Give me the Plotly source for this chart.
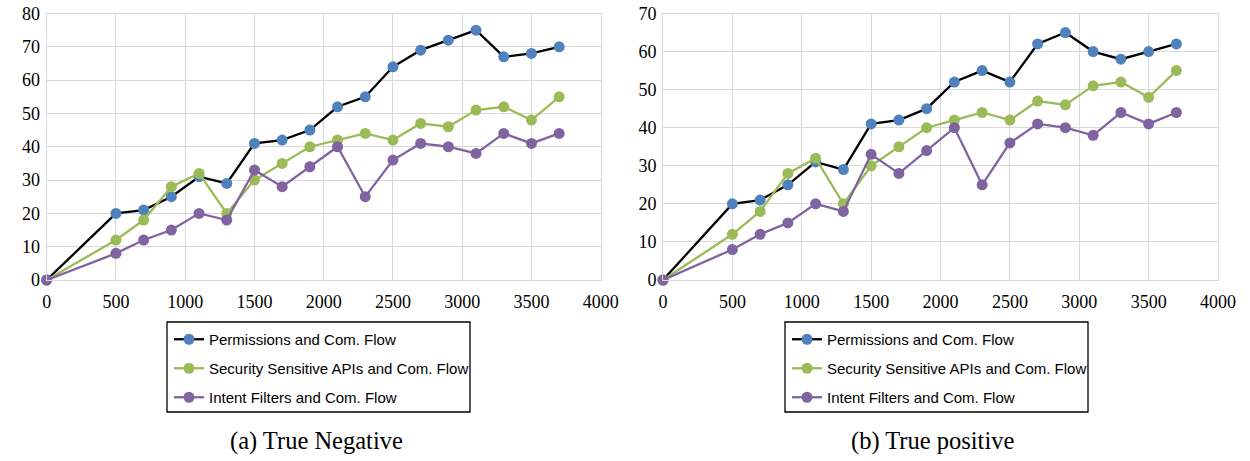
import plotly.graph_objects as go

x_vals = [0, 500, 700, 900, 1100, 1300, 1500, 1700, 1900, 2100, 2300, 2500, 2700, 2900, 3100, 3300, 3500, 3700]

tn_permissions = [0, 20, 21, 25, 31, 29, 41, 42, 45, 52, 55, 64, 69, 72, 75, 67, 68, 70]
tn_security = [0, 12, 18, 28, 32, 20, 30, 35, 40, 42, 44, 42, 47, 46, 51, 52, 48, 55]
tn_intent = [0, 8, 12, 15, 20, 18, 33, 28, 34, 40, 25, 36, 41, 40, 38, 44, 41, 44]

tp_permissions = [0, 20, 21, 25, 31, 29, 41, 42, 45, 52, 55, 52, 62, 65, 60, 58, 60, 62]
tp_security = [0, 12, 18, 28, 32, 20, 30, 35, 40, 42, 44, 42, 47, 46, 51, 52, 48, 55]
tp_intent = [0, 8, 12, 15, 20, 18, 33, 28, 34, 40, 25, 36, 41, 40, 38, 44, 41, 44]

names = ["Permissions and Com. Flow", "Security Sensitive APIs and Com. Flow", "Intent Filters and Com. Flow"]
line_colors = ["#000000", "#9BBB59", "#8064A2"]
marker_colors = ["#4F81BD", "#9BBB59", "#8064A2"]
captions = ["(a) True Negative", "(b) True positive"]

fig = go.Figure()

panels = [
    ([tn_permissions, tn_security, tn_intent], "x", "y", "legend"),
    ([tp_permissions, tp_security, tp_intent], "x2", "y2", "legend2"),
]
for series, xa, ya, lg in panels:
    for i, ys in enumerate(series):
        fig.add_trace(go.Scatter(
            x=x_vals, y=ys, mode="lines+markers", name=names[i],
            xaxis=xa, yaxis=ya, legend=lg, legendgroup=lg + str(i),
            line=dict(color=line_colors[i], width=2.3),
            marker=dict(color=marker_colors[i], size=11, line=dict(width=0)),
            cliponaxis=False,
        ))

W, H = 1250, 461


def px(xw):
    return xw / W


def py(yw):
    return 1 - yw / H


axis_common = dict(showgrid=True, gridcolor="#D9D9D9", gridwidth=1, zeroline=False,
                   showline=True, linecolor="#D9D9D9", linewidth=1, mirror=True,
                   automargin=False,
                   ticks="", tickfont=dict(family="Liberation Serif", size=18, color="#000"))

ydom = [py(280), py(13.5)]
legend_common = dict(xanchor="left", yanchor="top", borderwidth=0, bgcolor="rgba(0,0,0,0)",
                     font=dict(family="Liberation Sans", size=15, color="#000"),
                     tracegroupgap=6.5, itemwidth=30)

fig.update_layout(
    width=W, height=H, margin=dict(l=0, r=0, t=0, b=0),
    paper_bgcolor="white", plot_bgcolor="white",
    xaxis=dict(domain=[px(46.7), px(600.7)], range=[0, 4000], dtick=500, anchor="y",
               ticklabelstandoff=5, **axis_common),
    yaxis=dict(domain=ydom, range=[0, 80], dtick=10, anchor="x", ticklabelstandoff=2, **axis_common),
    xaxis2=dict(domain=[px(663), px(1218)], range=[0, 4000], dtick=500, anchor="y2",
                ticklabelstandoff=5, **axis_common),
    yaxis2=dict(domain=ydom, range=[0, 70], dtick=10, anchor="x2", ticklabelstandoff=2, **axis_common),
    legend=dict(x=px(169), y=py(323), **legend_common),
    legend2=dict(x=px(787), y=py(323), **legend_common),
    showlegend=True,
)

for x0, x1 in [(167, 470), (785, 1088)]:
    fig.add_shape(type="rect", xref="paper", yref="paper",
                  x0=px(x0), x1=px(x1), y0=py(412), y1=py(322),
                  line=dict(color="#000", width=1.3), fillcolor="rgba(0,0,0,0)")

for cx, text in zip([316, 933], captions):
    fig.add_annotation(x=px(cx), y=py(441), xref="paper", yref="paper", text=text,
                       xanchor="center", yanchor="middle",
                       showarrow=False, font=dict(family="Liberation Serif", size=24.5, color="#000"))

fig.write_html("out.html", config={"displayModeBar": False},
               post_script="document.body.style.margin='0';document.body.style.overflow='hidden';")
